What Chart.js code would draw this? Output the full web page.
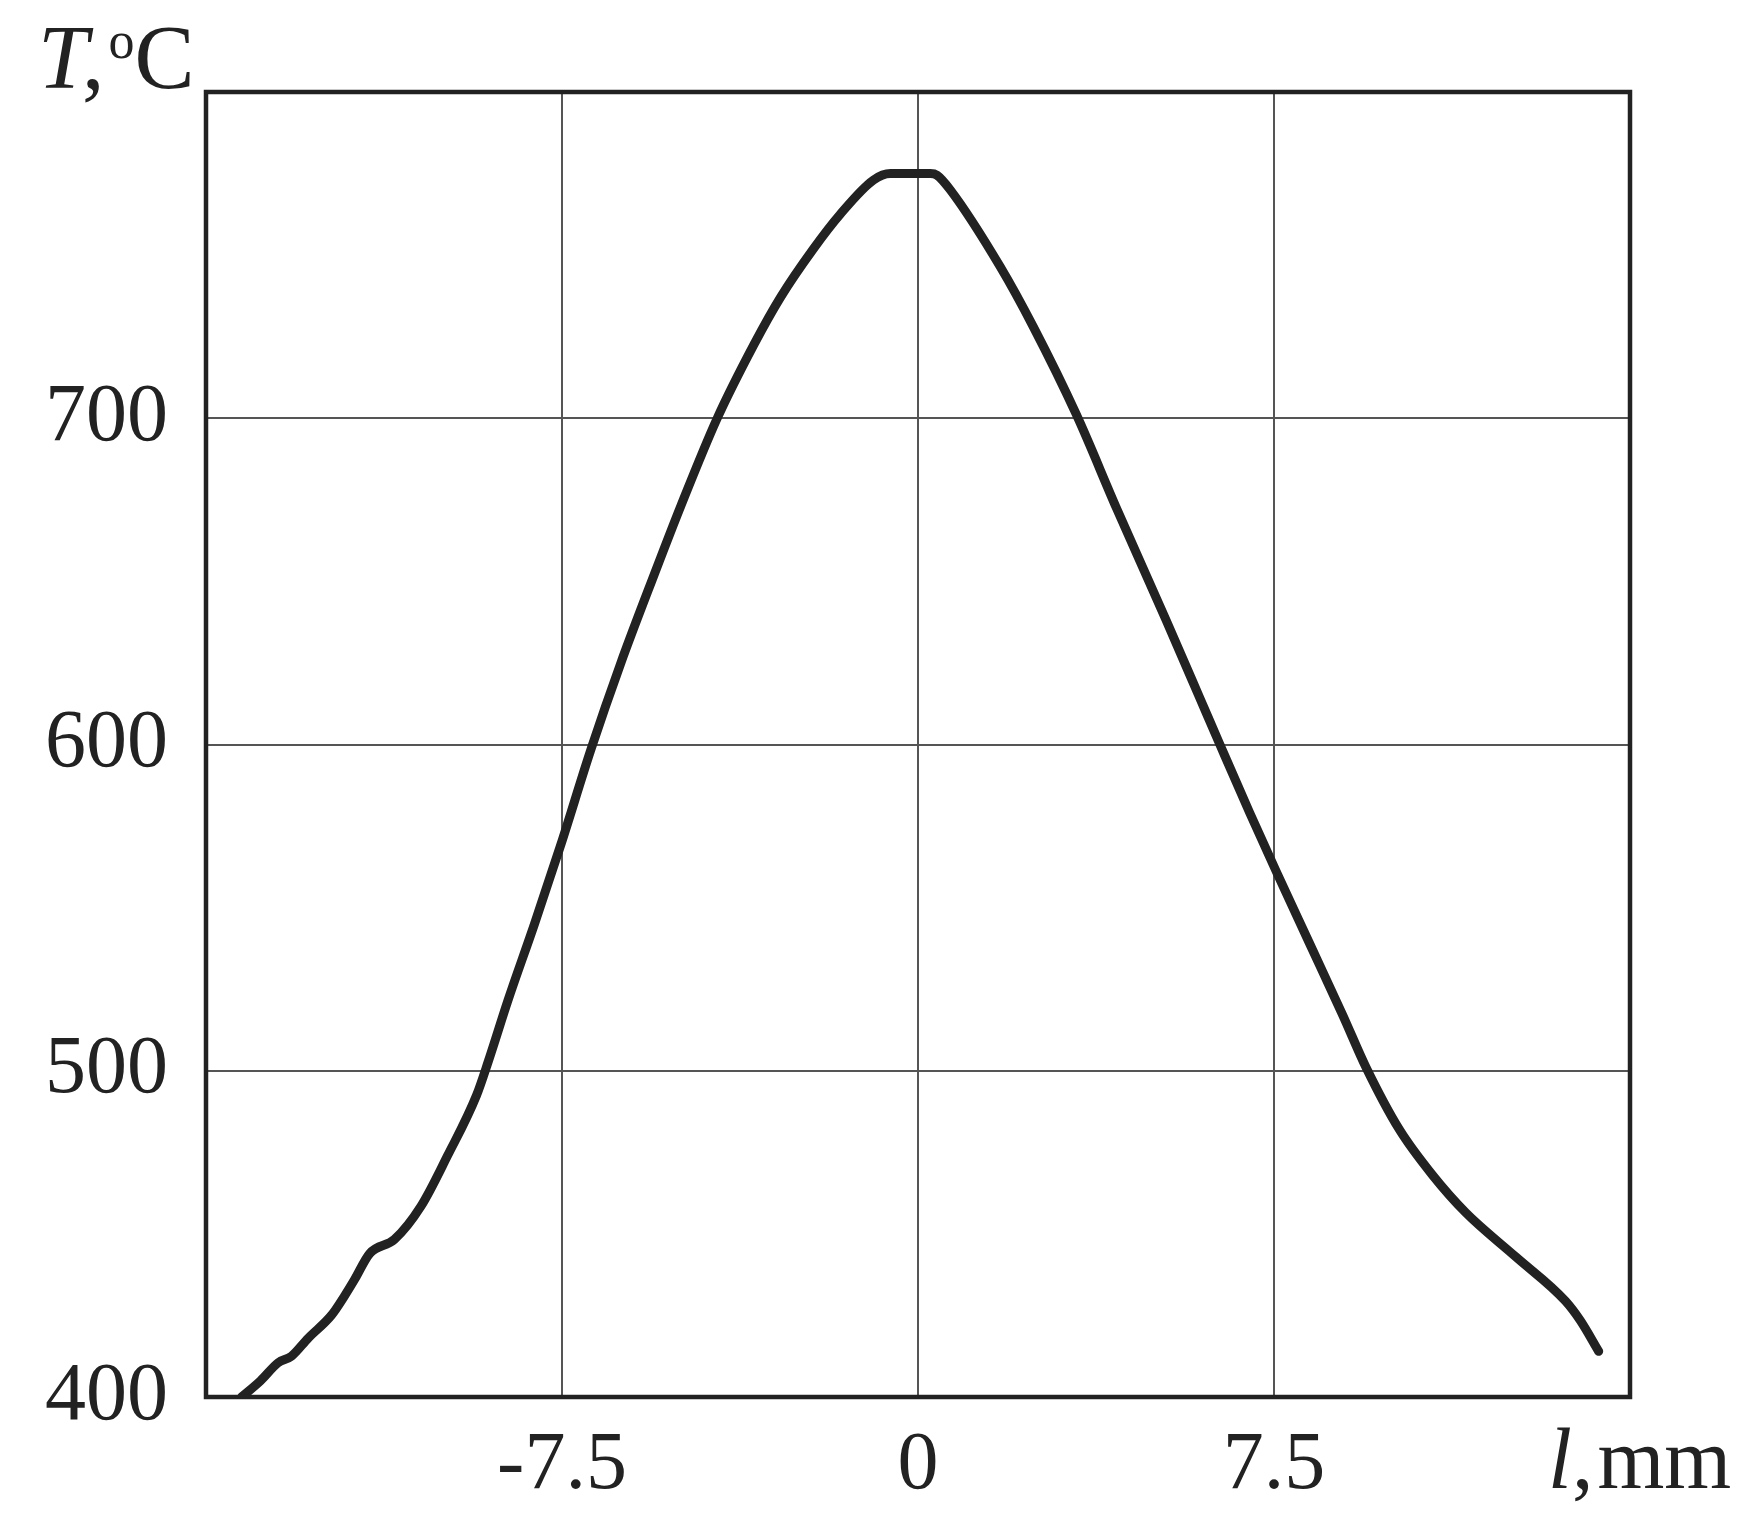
<!DOCTYPE html>
<html>
<head>
<meta charset="utf-8">
<script src="https://cdn.jsdelivr.net/npm/chart.js@4.4.0/dist/chart.umd.min.js"></script>
<style>
    html, body { margin: 0; padding: 0; background: #fff; }
    #wrap { width: 1742px; height: 1535px; }
</style>
</head>
<body>
<div id="wrap"><canvas id="myChart" width="1742" height="1535"></canvas></div>
<script>
// distance l, mm
const lValues = [
    -14.25, -13.85, -13.48, -13.20, -12.85, -12.36, -12.08, -11.87, -11.55, -11.03,
    -10.47, -9.91, -9.30, -9.05, -8.64, -8.08, -7.52, -6.89, -6.26, -5.56,
    -5.00, -4.23, -3.46, -2.90, -2.20, -1.64, -0.94, -0.58, 0.26, 0.40,
    0.68, 1.73, 2.43, 3.34, 4.18, 5.23, 5.93, 6.36, 6.99, 7.55,
    8.25, 8.95, 9.44, 10.14, 10.84, 11.54, 12.59, 13.64, 13.95, 14.34
];
// temperature T, °C
const tValues = [
    400, 405, 410.5, 412.5, 418, 425, 431, 436, 444, 448.3,
    458.5, 474, 492.5, 503, 521.5, 545, 569.5, 598.5, 625, 652,
    673, 700, 722.5, 737, 752, 762.5, 773, 775, 775, 774.5,
    770, 746.5, 728, 701, 672.5, 638, 614.5, 600, 579, 561,
    539, 517, 501, 482, 468, 456.5, 443, 429.4, 423.5, 414
];
const xTicks = [-7.5, 0, 7.5];
const yTicks = [400, 500, 600, 700];

const serif = '"Liberation Serif", "Times New Roman", serif';
const ink = '#222222';

// frame around plot area + corner axis titles
const framePlugin = {
    id: 'frame',
    afterDraw(chart) {
        const ctx = chart.ctx;
        const a = chart.chartArea;
        ctx.save();
        ctx.strokeStyle = ink;
        ctx.lineWidth = 4.5;
        ctx.strokeRect(a.left, a.top, a.right - a.left, a.bottom - a.top);

        ctx.fillStyle = ink;
        ctx.textBaseline = 'alphabetic';
        ctx.textAlign = 'left';
        // T, °C
        let x = 38;
        ctx.font = 'italic 90px ' + serif;
        ctx.fillText('T', x, 88);
        x += ctx.measureText('T').width - 6;
        ctx.font = '90px ' + serif;
        ctx.fillText(',', x, 88);
        x += ctx.measureText(',').width + 4;
        ctx.font = '52px ' + serif;
        ctx.fillText('o', x, 58);
        x += ctx.measureText('o').width;
        ctx.font = '90px ' + serif;
        ctx.fillText('C', x, 88);

        // l, mm
        x = 1548;
        ctx.font = 'italic 86px ' + serif;
        ctx.fillText('l', x, 1488);
        x += ctx.measureText('l').width;
        ctx.font = '86px ' + serif;
        ctx.fillText(',', x, 1488);
        x += ctx.measureText(',').width + 4;
        ctx.fillText('mm', x, 1488);
        ctx.restore();
    }
};

const ctx = document.getElementById('myChart').getContext('2d');
const points = lValues.map((l, i) => ({ x: l, y: tValues[i] }));

const chart = new Chart(ctx, {
    type: 'line',
    data: {
        datasets: [{
            data: points,
            borderColor: ink,
            borderWidth: 9,
            pointRadius: 0,
            fill: false,
            cubicInterpolationMode: 'monotone',
            borderCapStyle: 'round',
            borderJoinStyle: 'round'
        }]
    },
    options: {
        responsive: false,
        animation: false,
        layout: {
            padding: { top: 92, right: 112, left: 0, bottom: 0 }
        },
        plugins: {
            legend: { display: false },
            tooltip: { enabled: false }
        },
        scales: {
            x: {
                type: 'linear',
                min: -15,
                max: 15,
                afterBuildTicks: function(scale) {
                    scale.ticks = xTicks.map(v => ({ value: v }));
                },
                afterFit: function(scale) {
                    scale.height = 138;
                },
                grid: {
                    color: '#555555',
                    lineWidth: 2,
                    drawTicks: false
                },
                border: { display: false },
                ticks: {
                    color: ink,
                    padding: 20,
                    maxRotation: 0,
                    font: { family: serif, size: 82 },
                    callback: v => String(v)
                }
            },
            y: {
                type: 'linear',
                min: 400,
                max: 800,
                afterBuildTicks: function(scale) {
                    scale.ticks = yTicks.map(v => ({ value: v }));
                },
                afterFit: function(scale) {
                    scale.width = 206;
                },
                grid: {
                    color: '#555555',
                    lineWidth: 2,
                    drawTicks: false
                },
                border: { display: false },
                ticks: {
                    color: ink,
                    padding: 38,
                    font: { family: serif, size: 82 },
                    callback: v => String(v)
                }
            }
        }
    },
    plugins: [framePlugin]
});
</script>
</body>
</html>
